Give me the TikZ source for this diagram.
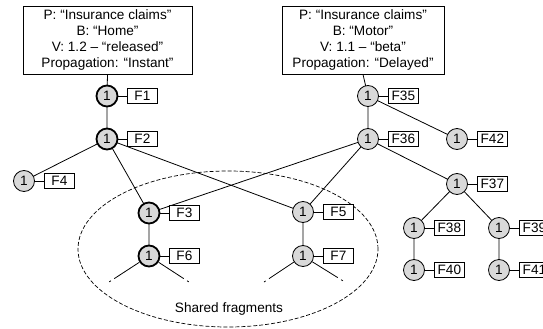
\documentclass[tikz,border=0pt]{standalone}
\usepackage{fontspec}
\setmainfont{Liberation Sans}
\newcommand\fnd[5]{%
  \node[#5] (#1) at (#2,#3) {1};
  \node[lbl,anchor=west] (#1l) at (#2+20,#3) {#4};
  \draw[ln] (#1) -- (#1l);}
\begin{document}
\begin{tikzpicture}[x=1pt,y=-1pt,
  every node/.style={font=\fontsize{13.6}{16.3}\selectfont},
  fn/.style={circle,draw,fill=black!15,minimum size=21pt,inner sep=0pt,line width=0.8pt},
  fnb/.style={fn,line width=1.8pt},
  lbl/.style={draw,fill=white,minimum width=30pt,minimum height=15pt,inner sep=1pt,line width=0.8pt},
  hd/.style={draw,align=center,minimum height=68pt,inner sep=0pt,line width=0.8pt},
  ln/.style={line width=0.8pt},
  dang/.style={ln,dash pattern=on 30pt off 4pt on 2pt off 60pt},
  shr/.style={line width=0.7pt,dash pattern=on 4pt off 2pt}]
\useasboundingbox (0,0) rectangle (543,329);

% shared-fragment ellipse
\draw[shr] (228,249) ellipse [x radius=150pt, y radius=78pt];
\node (shared) at (229,309) {Shared fragments};

% header boxes
\node[hd,minimum width=169pt] (hl) at (107.5,40) {P: “Insurance claims”\\B: “Home”\\V: 1.2 – “released”\\Propagation: “Instant”};
\node[hd,minimum width=162pt] (hr) at (363,40) {P: “Insurance claims”\\B: “Motor”\\V: 1.1 – “beta”\\Propagation: “Delayed”};

% edges (drawn first so nodes cover them)
\coordinate (F1c) at (107,96);
\coordinate (F2c) at (107,139);
\coordinate (F3c) at (149,213);
\coordinate (F4c) at (24,181);
\coordinate (F5c) at (303,212);
\coordinate (F6c) at (149,256);
\coordinate (F7c) at (303,256);
\coordinate (F35c) at (368,96);
\coordinate (F36c) at (368,139);
\coordinate (F37c) at (457,184);
\coordinate (F38c) at (414,228);
\coordinate (F39c) at (499,228);
\coordinate (F40c) at (414,270);
\coordinate (F41c) at (499,270);
\coordinate (F42c) at (457,139);

\draw[ln] (hl.south) -- (F1c) -- (F2c);
\draw[ln] (F2c) -- (F4c);
\draw[ln] (F2c) -- (F3c) -- (F6c);
\draw[ln] (F2c) -- (F5c) -- (F7c);
\draw[ln] (hr.south) -- (F35c) -- (F36c);
\draw[ln] (F35c) -- (F42c);
\draw[ln] (F36c) -- (F3c);
\draw[ln] (F36c) -- (F5c);
\draw[ln] (F36c) -- (F37c);
\draw[ln] (F37c) -- (F38c) -- (F40c);
\draw[ln] (F37c) -- (F39c) -- (F41c);

% fragment nodes
\fnd{F1}{107}{96}{F1}{fnb}
\fnd{F2}{107}{139}{F2}{fnb}
\fnd{F4}{24}{181}{F4}{fn}
\fnd{F3}{149}{213}{F3}{fnb}
\fnd{F6}{149}{256}{F6}{fnb}
\fnd{F5}{303}{212}{F5}{fn}
\fnd{F7}{303}{256}{F7}{fn}
\fnd{F35}{368}{96}{F35}{fn}
\fnd{F36}{368}{139}{F36}{fn}
\fnd{F42}{457}{139}{F42}{fn}
\fnd{F37}{457}{184}{F37}{fn}
\fnd{F38}{414}{228}{F38}{fn}
\fnd{F39}{499}{228}{F39}{fn}
\fnd{F40}{414}{270}{F40}{fn}
\fnd{F41}{499}{270}{F41}{fn}

% dangling links below the shared fragments
\coordinate (d6a) at (106,284);
\coordinate (d6b) at (192,284);
\coordinate (d7a) at (261,284);
\coordinate (d7b) at (348,284);
\draw[dang] (F6) -- (d6a);
\draw[dang] (F6) -- (d6b);
\draw[dang] (F7) -- (d7a);
\draw[dang] (F7) -- (d7b);
\end{tikzpicture}
\end{document}
